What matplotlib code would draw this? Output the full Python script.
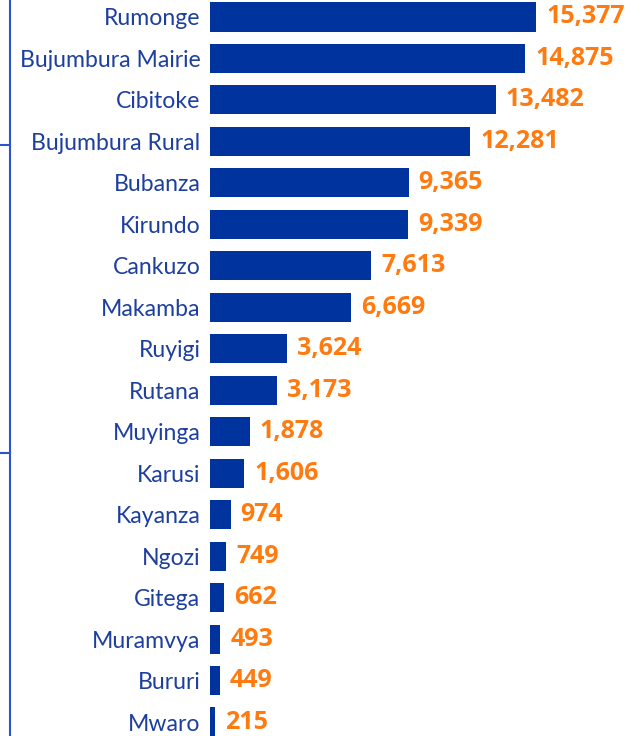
import matplotlib
matplotlib.use("Agg")
import matplotlib.pyplot as plt
from matplotlib.lines import Line2D

provinces = ["Rumonge", "Bujumbura Mairie", "Cibitoke", "Bujumbura Rural", "Bubanza",
             "Kirundo", "Cankuzo", "Makamba", "Ruyigi", "Rutana", "Muyinga", "Karusi",
             "Kayanza", "Ngozi", "Gitega", "Muramvya", "Bururi", "Mwaro"]
values = [15377, 14875, 13482, 12281, 9365, 9339, 7613, 6669, 3624, 3173, 1878, 1606,
          974, 749, 662, 493, 449, 215]

bar_color = "#00339E"
label_color = "#1D3F9E"
value_color = "#FF7A0F"
line_color = "#2B55C8"

fig = plt.figure(figsize=(6.4, 7.36), dpi=100)
W, H = 640, 736
ax = fig.add_axes([210 / W, (736 - 742.75) / H, 430 / W, 746.5 / H])
n = len(provinces)
ypos = list(range(n))
ax.barh(ypos, values, height=0.7, color=bar_color)
ax.set_ylim(n - 0.5, -0.5)
ax.set_xlim(0, 20280)
ax.set_yticks(ypos)
ax.set_yticklabels(provinces, fontsize=16.6, color=label_color, family=["Lato", "DejaVu Sans"])
ax.tick_params(axis="y", length=0, pad=7)
ax.set_xticks([])
for s in ax.spines.values():
    s.set_visible(False)
for y, v in zip(ypos, values):
    ax.annotate(f"{v:,}", (v, y), xytext=(10, 0), textcoords="offset pixels",
                va="center", ha="left", fontsize=18, fontweight="bold",
                color=value_color, family=["Open Sans", "DejaVu Sans"])

# bracket line on the left
fig.add_artist(Line2D([10 / W, 10 / W], [0, 1], color=line_color, lw=1.5, transform=fig.transFigure))
for yy in (145, 453):
    fig.add_artist(Line2D([0, 10 / W], [1 - yy / H, 1 - yy / H], color=line_color, lw=1.5,
                          transform=fig.transFigure))

fig.savefig("out.png", dpi=100)
